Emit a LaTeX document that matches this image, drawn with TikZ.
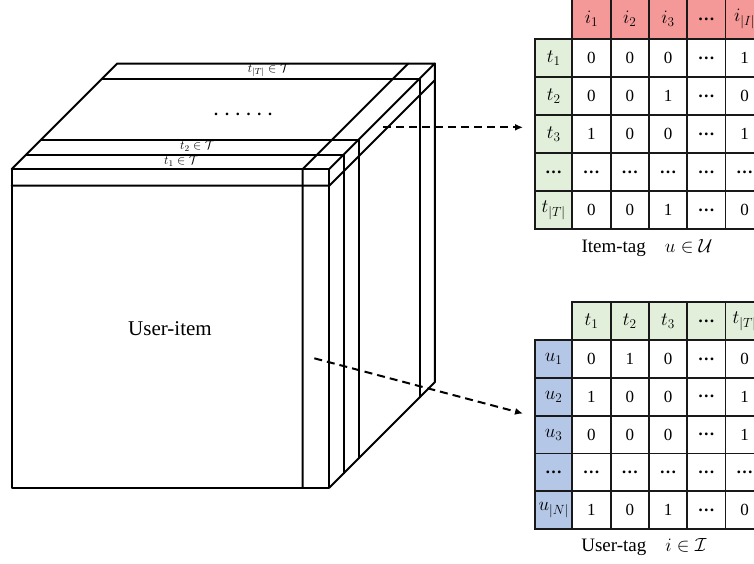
\RequirePackage{fix-cm}
\documentclass[tikz,border=0pt]{standalone}
\usepackage{fontspec}
\setmainfont{Liberation Serif}
\usetikzlibrary{arrows.meta}
\definecolor{pinkH}{RGB}{245,152,152}
\definecolor{greenL}{RGB}{226,239,218}
\definecolor{blueL}{RGB}{180,199,231}
\newcommand{\celldots}{\textbf{…}}
\newcommand{\mv}[1]{{\fontsize{19}{22}\selectfont$#1$}}
\begin{document}
\begin{tikzpicture}[x=1pt,y=-1pt,
  cube/.style={line width=2pt,line join=round,line cap=round},
  arr/.style={line width=2pt,dash pattern=on 8pt off 5pt,-{Latex[length=8pt,width=7pt]}},
  cellbase/.style={rectangle,inner sep=0pt,outer sep=0pt,minimum width=38.3pt,font=\fontsize{17}{20}\selectfont},
  gridln/.style={line width=1.8pt,draw=black!90},
  tiny/.style={inner sep=0pt,font=\fontsize{12.5}{14}\selectfont}]
\clip (0,0) rectangle (754,563);
\fill[white] (0,0) rectangle (754,563);
% ---------- cube ----------
\coordinate (FTL) at (11.7,169);
\coordinate (FTR) at (329.3,169);
\coordinate (FBR) at (329.3,487.7);
\coordinate (BTL) at (117.2,63.5);
\coordinate (BTR) at (434.8,63.5);
\coordinate (BBR) at (434.8,382.2);
\draw[cube] (FTL) rectangle (FBR);
\draw[cube] (FTL) -- (BTL) -- (BTR) -- (FTR);
\draw[cube] (BTR) -- (BBR) -- (FBR);
\draw[cube] (302.7,487.7) -- (302.7,169) -- ++(105.5,-105.5);
\draw[cube] (11.7,185.7) -- (329.3,185.7) -- ++(105.5,-105.5);
\foreach \k in {14.5,29.5,90.5}{
  \draw[cube] ({11.7+\k},{169-\k}) -- ({329.3+\k},{169-\k}) -- ({329.3+\k},{487.7-\k});
}
\node[tiny] (lT) at (269,70) {$t_{|T|}\in\mathcal{T}$};
\node[tiny] (l2) at (197.5,146.5) {$t_{2}\in\mathcal{T}$};
\node[tiny] (l1) at (181.5,161.5) {$t_{1}\in\mathcal{T}$};
\node[inner sep=0pt] (dots) at (243.2,114.5) {\fontsize{16}{16}\selectfont\bfseries .\hspace{6.8pt}.\hspace{6.8pt}.\hspace{6.8pt}.\hspace{6.8pt}.\hspace{6.8pt}.};
\node[inner sep=0pt,font=\fontsize{21}{24}\selectfont] (ui) at (170,329) {User-item};
% ---------- arrows ----------
\coordinate (a1s) at (383,127.3);
\coordinate (a1e) at (523,127.3);
\coordinate (a2s) at (314.3,358.3);
\coordinate (a2e) at (523,413.5);
\draw[arr] (a1s) -- (a1e);
\draw[arr] (a2s) -- (a2e);
% ---------- top table ----------
\foreach \h [count=\c from 0] in {{\mv{i_1}},{\mv{i_2}},{\mv{i_3}},{\celldots},{\mv{i_{|I|}}}}
  \node[cellbase,fill=pinkH,minimum height=40pt] (A-h\c) at ({572.3+38.3*(\c+0.5)},19) {\h};
\foreach \h [count=\r from 0] in {{\mv{t_1}},{\mv{t_2}},{\mv{t_3}},{\celldots},{\mv{t_{|T|}}}}
  \node[cellbase,fill=greenL,minimum width=37.3pt,minimum height=38.06pt] (A-l\r) at (553.65,{39+38.06*(\r+0.5)}) {\h};
\foreach \v [count=\k from 0] in {0,0,0,\celldots,1, 0,0,1,\celldots,0, 1,0,0,\celldots,1, \celldots,\celldots,\celldots,\celldots,\celldots, 0,0,1,\celldots,0}{
  \pgfmathtruncatemacro{\rr}{int(\k/5)}
  \pgfmathtruncatemacro{\cc}{mod(\k,5)}
  \node[cellbase,fill=white,minimum height=38.06pt] (A-\rr-\cc) at ({572.3+38.3*(\cc+0.5)},{39+38.06*(\rr+0.5)}) {\v};
}
\foreach \c in {0,...,4}{\draw[gridln] (A-h\c.south west) rectangle (A-h\c.north east);}
\foreach \r in {0,...,4}{
  \draw[gridln] (A-l\r.south west) rectangle (A-l\r.north east);
  \foreach \c in {0,...,4}{\draw[gridln] (A-\r-\c.south west) rectangle (A-\r-\c.north east);}
}
\node[inner sep=0pt,font=\fontsize{19}{22}\selectfont] (capA) at (647,248) {Item-tag\quad $u\in\mathcal{U}$};
% ---------- bottom table ----------
\foreach \h [count=\c from 0] in {{\mv{t_1}},{\mv{t_2}},{\mv{t_3}},{\celldots},{\mv{t_{|T|}}}}
  \node[cellbase,fill=greenL,minimum height=37.7pt] (B-h\c) at ({572.3+38.3*(\c+0.5)},321.15) {\h};
\foreach \h [count=\r from 0] in {{\mv{u_1}},{\mv{u_2}},{\mv{u_3}},{\celldots},{\mv{u_{|N|}}}}
  \node[cellbase,fill=blueL,minimum width=37.3pt,minimum height=37.8pt] (B-l\r) at (553.65,{340+37.8*(\r+0.5)}) {\h};
\foreach \v [count=\k from 0] in {0,1,0,\celldots,0, 1,0,0,\celldots,1, 0,0,0,\celldots,1, \celldots,\celldots,\celldots,\celldots,\celldots, 1,0,1,\celldots,0}{
  \pgfmathtruncatemacro{\rr}{int(\k/5)}
  \pgfmathtruncatemacro{\cc}{mod(\k,5)}
  \node[cellbase,fill=white,minimum height=37.8pt] (B-\rr-\cc) at ({572.3+38.3*(\cc+0.5)},{340+37.8*(\rr+0.5)}) {\v};
}
\foreach \c in {0,...,4}{\draw[gridln] (B-h\c.south west) rectangle (B-h\c.north east);}
\foreach \r in {0,...,4}{
  \draw[gridln] (B-l\r.south west) rectangle (B-l\r.north east);
  \foreach \c in {0,...,4}{\draw[gridln] (B-\r-\c.south west) rectangle (B-\r-\c.north east);}
}
\node[inner sep=0pt,font=\fontsize{19}{22}\selectfont] (capB) at (644,547) {User-tag\quad $i\in\mathcal{I}$};
\end{tikzpicture}
\end{document}
